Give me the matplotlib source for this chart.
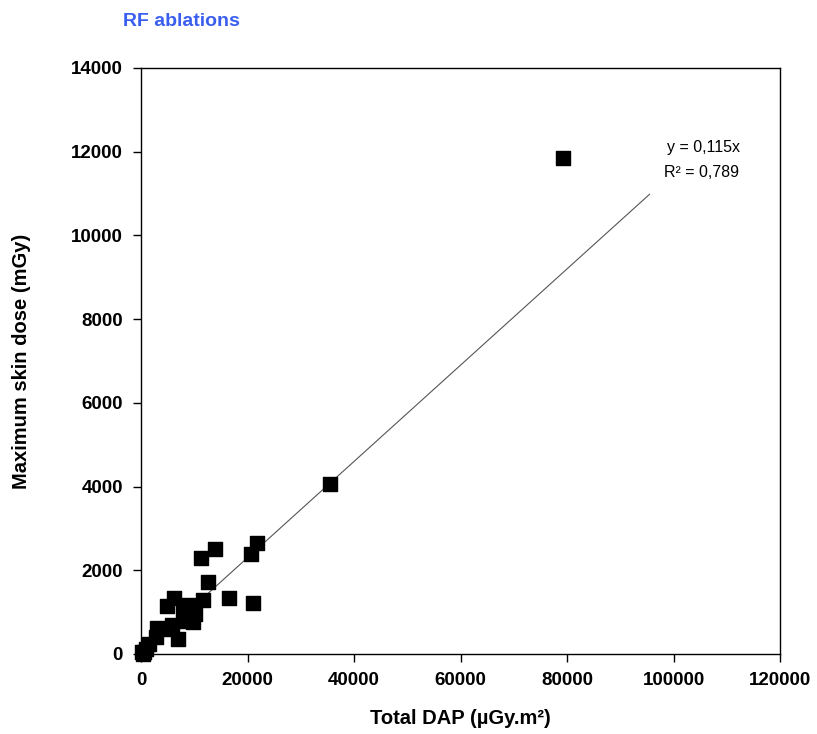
import matplotlib
matplotlib.use("Agg")
import matplotlib.pyplot as plt
import numpy as np

plt.rcParams['font.family'] = ['Liberation Sans', 'DejaVu Sans']

total_dap = [310, 940, 1560, 2820, 2950, 4510, 5820, 7000, 4940, 6260, 7950, 8260,
             8770, 9700, 10140, 11580, 12520, 11210, 13950, 16470, 20600, 21090,
             21730, 35500, 79300, 150, 600]
max_skin_dose = [0, 112, 239, 399, 614, 597, 685, 358, 1139, 1330, 972, 788,
                 1163, 757, 948, 1283, 1712, 2293, 2516, 1330, 2389, 1218,
                 2645, 4070, 11850, 50, 40]
slope = 0.115
fit_x_range = [0, 95500]
title = "RF ablations"
x_label = "Total DAP (µGy.m²)"
y_label = "Maximum skin dose (mGy)"
x_ticks = [0, 20000, 40000, 60000, 80000, 100000, 120000]
y_ticks = [0, 2000, 4000, 6000, 8000, 10000, 12000, 14000]

fig = plt.figure(figsize=(8.17, 7.34), dpi=100)
ax = fig.add_axes([141/817, 1-654/734, (780-141)/817, (654-68)/734])

fx = np.array(fit_x_range)
ax.plot(fx, slope*fx, color='#555555', lw=0.8, zorder=1)
ax.scatter(total_dap, max_skin_dose, marker='s', s=95, color='black', zorder=3, clip_on=False)

ax.set_xlim(0, 120000)
ax.set_ylim(0, 14000)
ax.set_xticks(x_ticks)
ax.set_yticks(y_ticks)
ax.tick_params(direction='out', length=6, width=1, labelsize=13.5, pad=7)
for lab in ax.get_xticklabels() + ax.get_yticklabels():
    lab.set_fontweight('bold')
for sp in ax.spines.values():
    sp.set_linewidth(1)
ax.set_xlabel(x_label, fontsize=14.5, fontweight='bold', labelpad=14)
ax.set_ylabel(y_label, fontsize=14.5, fontweight='bold', labelpad=29)

fig.text(123/817, 1-21/734, title, color='#3a5ff0', fontsize=14, fontweight='bold', va='center', ha='left')
ax.text(0.823, 0.865, "y = 0,115x", transform=ax.transAxes, fontsize=11.5, ha='left', va='center')
ax.text(0.818, 0.822, "R² = 0,789", transform=ax.transAxes, fontsize=11.5, ha='left', va='center')

fig.savefig("out.png", dpi=100)
